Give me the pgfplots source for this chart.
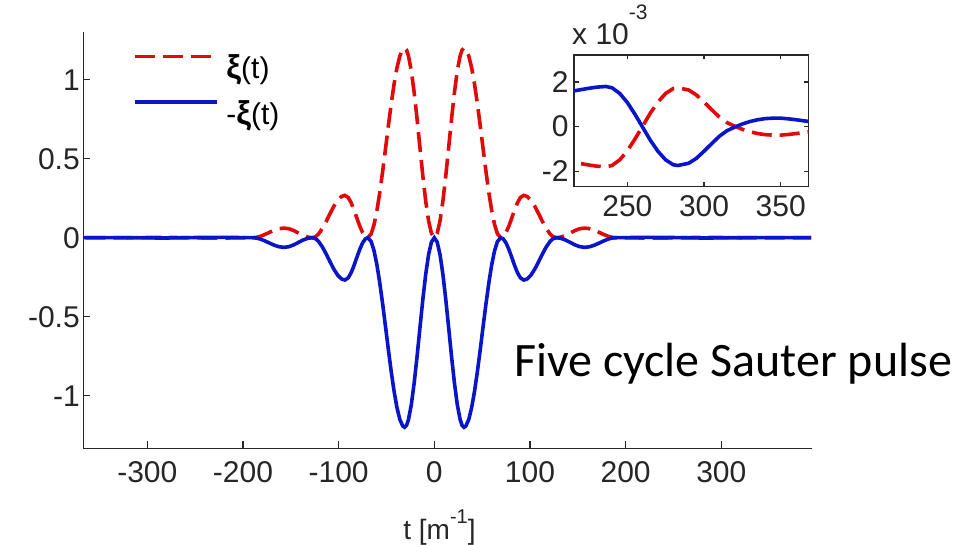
\documentclass[border=0pt]{standalone}
\usepackage{fontspec}
\setmainfont{Liberation Sans}
\newfontfamily\carlito{Carlito}
\usepackage{pgfplots}
\usepackage{pgfplotstable}
\pgfplotsset{compat=1.18}

\definecolor{xired}{RGB}{225,10,10}
\definecolor{xiblue}{RGB}{10,20,200}
\definecolor{axgray}{RGB}{40,40,40}

% xi(t) (inset part is the small tail, ~1e-3)
\pgfplotstableread{
t xi
-394 -0.00008
-380 -0.00015
-370 -0.00022
-365 -0.00026
-360 -0.00031
-355 -0.00035
-350 -0.00038
-345 -0.00038
-340 -0.00036
-335 -0.00031
-330 -0.00023
-325 -0.00012
-320 0.00002
-315 0.00018
-310 0.00043
-305 0.00076
-300 0.00110
-295 0.00142
-290 0.00164
-283 0.00174
-280 0.00171
-275 0.00149
-270 0.00111
-265 0.00061
-260 0.00003
-255 -0.00055
-250 -0.00108
-245 -0.00149
-240 -0.00174
-236 -0.00180
-230 -0.00177
-225 -0.00172
-220 -0.00166
-215 -0.00160
-210 -0.0014
-205 -0.0010
-200 -0.0006
-195 -0.0002
-190 0
-186 0.0022
-182 0.0084
-177 0.0205
-172 0.0348
-167 0.0482
-162 0.0576
-157 0.0610
-152 0.0568
-147 0.0453
-142 0.0297
-137 0.0143
-132 0.0034
-127.5 0
-124 0.0069
-121 0.0234
-117 0.0583
-113 0.1033
-109 0.1525
-105 0.1992
-101 0.2371
-97 0.2611
-93.5 0.2680
-90 0.2542
-87 0.2224
-84 0.1771
-81 0.1251
-78 0.0747
-75 0.0333
-72 0.0071
-69.5 0
-66 0.0243
-63 0.0825
-60 0.1715
-57 0.2860
-54 0.4191
-51 0.5631
-48 0.7095
-45 0.8492
-42 0.9741
-39 1.0766
-36 1.1507
-33 1.1920
-31 1.2000
-29 1.1877
-27 1.1513
-24 1.0554
-21 0.9175
-18 0.7508
-15 0.5697
-12 0.3915
-9 0.2327
-6 0.1076
-3 0.0275
0 0
3 0.0275
6 0.1076
9 0.2327
12 0.3915
15 0.5697
18 0.7508
21 0.9175
24 1.0554
27 1.1513
29 1.1877
31 1.2000
33 1.1920
36 1.1507
39 1.0766
42 0.9741
45 0.8492
48 0.7095
51 0.5631
54 0.4191
57 0.2860
60 0.1715
63 0.0825
66 0.0243
69.5 0
72 0.0071
75 0.0333
78 0.0747
81 0.1251
84 0.1771
87 0.2224
90 0.2542
93.5 0.2680
97 0.2611
101 0.2371
105 0.1992
109 0.1525
113 0.1033
117 0.0583
121 0.0234
124 0.0069
127.5 0
132 0.0034
137 0.0143
142 0.0297
147 0.0453
152 0.0568
157 0.0610
162 0.0576
167 0.0482
172 0.0348
177 0.0205
182 0.0084
186 0.0022
190 0
195 -0.0002
200 -0.0006
205 -0.0010
210 -0.0014
215 -0.00160
220 -0.00166
225 -0.00172
230 -0.00177
236 -0.00180
240 -0.00174
245 -0.00149
250 -0.00108
255 -0.00055
260 0.00003
265 0.00061
270 0.00111
275 0.00149
280 0.00171
283 0.00174
290 0.00164
295 0.00142
300 0.00110
305 0.00076
310 0.00043
315 0.00018
320 0.00002
325 -0.00012
330 -0.00023
335 -0.00031
340 -0.00036
345 -0.00038
350 -0.00038
355 -0.00035
360 -0.00031
365 -0.00026
370 -0.00022
380 -0.00015
394 -0.00008
}\xidata

\newcommand{\xisym}{{\fontsize{33}{36}\selectfont\bfseries ξ}}

\pgfplotsset{
    matlab/.style={
        scale only axis,
        tick align=inside,
        axis line style={axgray, line width=1.3pt},
        tick style={axgray, line width=1.3pt},
        major tick length=7pt,
        every tick label/.append style={font=\fontsize{30}{34}\selectfont, text=black!85},
        /pgf/number format/assume math mode=true,
    },
    redline/.style={xired, line width=3.6pt, dash pattern=on 20pt off 8pt},
    blueline/.style={xiblue, line width=3.6pt},
}

\begin{document}
\begin{tikzpicture}
\path[use as bounding box] (0,0) rectangle (969pt,545pt);

\begin{axis}[matlab,
    at={(83.3pt,96.7pt)}, anchor=south west,
    width=728.4pt, height=416.6pt,
    axis lines*=left,
    xmin=-366.9, xmax=394.5, ymin=-1.333, ymax=1.304,
    xtick={-300,-200,...,300}, ytick={-1,-0.5,0,0.5,1},
    xticklabel style={yshift=-10pt},
    xlabel={t [m\raisebox{16pt}{\fontsize{20}{22}\selectfont -1}]},
    xlabel style={font=\fontsize{28}{32}\selectfont, text=black!85,
        at={(rel axis cs:0.5,0)}, anchor=base, yshift=-91.7pt, xshift=-8pt},
    legend style={draw=none, fill=none, at={(0.0678,0.945)}, anchor=north west,
        font=\fontsize{30}{34}\selectfont, row sep=20pt, column sep=8pt,
        inner sep=0pt, nodes={inner sep=0pt}},
    legend cell align=left,
    legend image code/.code={\draw[#1] (0pt,11pt) -- (82pt,11pt);},
]
\addplot[redline] table[x=t, y=xi] {\xidata};
\addlegendentry{\xisym(t)}
\addplot[blueline] table[x=t, y expr=-\thisrow{xi}] {\xidata};
\addlegendentry{-\xisym(t)}
\end{axis}

% inset, tail of the pulse in units of 1e-3
\begin{axis}[matlab,
    at={(574pt,358.3pt)}, anchor=south west,
    width=234.3pt, height=131.7pt,
    xmin=215.2, xmax=368, ymin=-2.69, ymax=3.21,
    xtick={250,300,350}, ytick={-2,0,2},
    major tick length=4.5pt,
    xticklabel style={yshift=-5pt},
    yticklabel style={xshift=-2pt},
    axis background/.style={fill=white},
    restrict x to domain=205:380,
]
\addplot[redline] table[x=t, y expr=1000*\thisrow{xi}] {\xidata};
\addplot[blueline] table[x=t, y expr=-1000*\thisrow{xi}] {\xidata};
\end{axis}

\node[anchor=base west, inner sep=0pt, font=\fontsize{30}{34}\selectfont, text=black!85]
    at (572pt,500pt) {x 10\raisebox{25pt}{\fontsize{21}{24}\selectfont -3}};

\node[anchor=base west, inner sep=0pt, font=\carlito\fontsize{48}{56}\selectfont]
    at (514pt,168.3pt) {Five cycle Sauter pulse};
\end{tikzpicture}
\end{document}
